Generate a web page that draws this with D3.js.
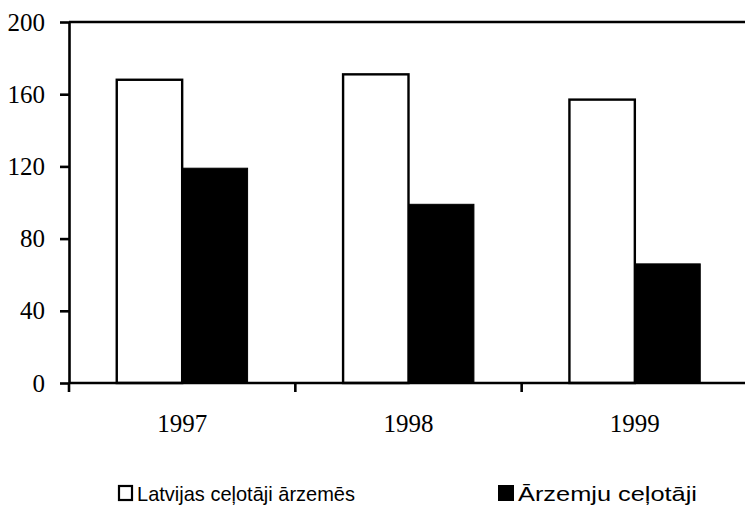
<!DOCTYPE html>
<html>
<head>
<meta charset="utf-8">
<script src="https://cdn.jsdelivr.net/npm/d3@7"></script>
<style>
  html, body { margin: 0; padding: 0; background: #fff; }
  svg { display: block; }
  .serif text { font-family: 'Liberation Serif', 'Times New Roman', serif !important; font-size: 25px; fill: #000; }
</style>
</head>
<body>
<svg id="chart" width="745" height="508"></svg>
<script>
const categories = ["1997", "1998", "1999"];
const seriesNames = ["Latvijas ceļotāji ārzemēs", "Ārzemju ceļotāji"];
const latvianTravellers = [168, 171, 157];
const foreignTravellers = [119, 99, 66];
const yTicks = [0, 40, 80, 120, 160, 200];

(function () {
const svg = d3.select("#chart");
const W = 745;
const mLeft = 69, mRight = 748, mTop = 22, mBottom = 383;

const x = d3.scaleBand().domain(categories).range([mLeft, mRight]).padding(0);
const x1 = d3.scaleBand().domain([0, 1]).range([0, x.bandwidth()]).paddingInner(0).paddingOuter(0.73);
const y = d3.scaleLinear().domain([0, 200]).range([mBottom, mTop]);

const rows = categories.map((c, i) => ({ cat: c, vals: [latvianTravellers[i], foreignTravellers[i]] }));

// bars
const g = svg.append("g");
rows.forEach(r => {
  r.vals.forEach((v, k) => {
    g.append("rect")
      .attr("x", x(r.cat) + x1(k))
      .attr("y", y(v))
      .attr("width", x1.bandwidth())
      .attr("height", y(0) - y(v))
      .attr("fill", k === 0 ? "#fff" : "#000")
      .attr("stroke", "#000")
      .attr("stroke-width", k === 0 ? 2.4 : 1);
  });
});

// top frame line
svg.append("line")
  .attr("x1", mLeft).attr("x2", W).attr("y1", y(200)).attr("y2", y(200))
  .attr("stroke", "#000").attr("stroke-width", 2.4);

// y axis
const yAxis = svg.append("g")
  .attr("class", "serif")
  .attr("transform", `translate(${mLeft},0)`)
  .call(d3.axisLeft(y).tickValues(yTicks).tickSize(9).tickSizeOuter(0).tickPadding(15).tickFormat(d3.format("d")));
yAxis.attr("font-family", null).attr("font-size", null);
yAxis.select(".domain").attr("stroke-width", 2.6);
yAxis.selectAll(".tick line").attr("stroke-width", 2.6);

// x axis
svg.append("line")
  .attr("x1", mLeft).attr("x2", W).attr("y1", y(0)).attr("y2", y(0))
  .attr("stroke", "#000").attr("stroke-width", 2.6);
svg.append("g").selectAll("line")
  .data(categories.concat(["end"]))
  .join("line")
  .attr("x1", d => d === "end" ? mRight : x(d))
  .attr("x2", d => d === "end" ? mRight : x(d))
  .attr("y1", y(0)).attr("y2", y(0) + 9)
  .attr("stroke", "#000").attr("stroke-width", 2.6);

const xAxis = svg.append("g")
  .attr("class", "serif")
  .attr("transform", `translate(0,${mBottom})`)
  .call(d3.axisBottom(x).tickSize(0).tickPadding(31));
xAxis.attr("font-family", null).attr("font-size", null);
xAxis.select(".domain").remove();

// legend
const legendFont = "'Liberation Sans Narrow', 'Arial Narrow', 'Liberation Sans', Arial, sans-serif";
svg.append("rect")
  .attr("x", 119).attr("y", 486).attr("width", 13).attr("height", 14)
  .attr("fill", "#fff").attr("stroke", "#000").attr("stroke-width", 2.2);
svg.append("text")
  .attr("x", 137).attr("y", 501)
  .style("font-family", legendFont).style("font-size", "21px")
  .attr("textLength", 218).attr("lengthAdjust", "spacingAndGlyphs")
  .text(seriesNames[0]);
svg.append("rect")
  .attr("x", 498).attr("y", 485).attr("width", 16).attr("height", 16)
  .attr("fill", "#000");
svg.append("text")
  .attr("x", 518).attr("y", 501)
  .style("font-family", legendFont).style("font-size", "21px")
  .attr("textLength", 179).attr("lengthAdjust", "spacingAndGlyphs")
  .text(seriesNames[1]);
})();
</script>
</body>
</html>
